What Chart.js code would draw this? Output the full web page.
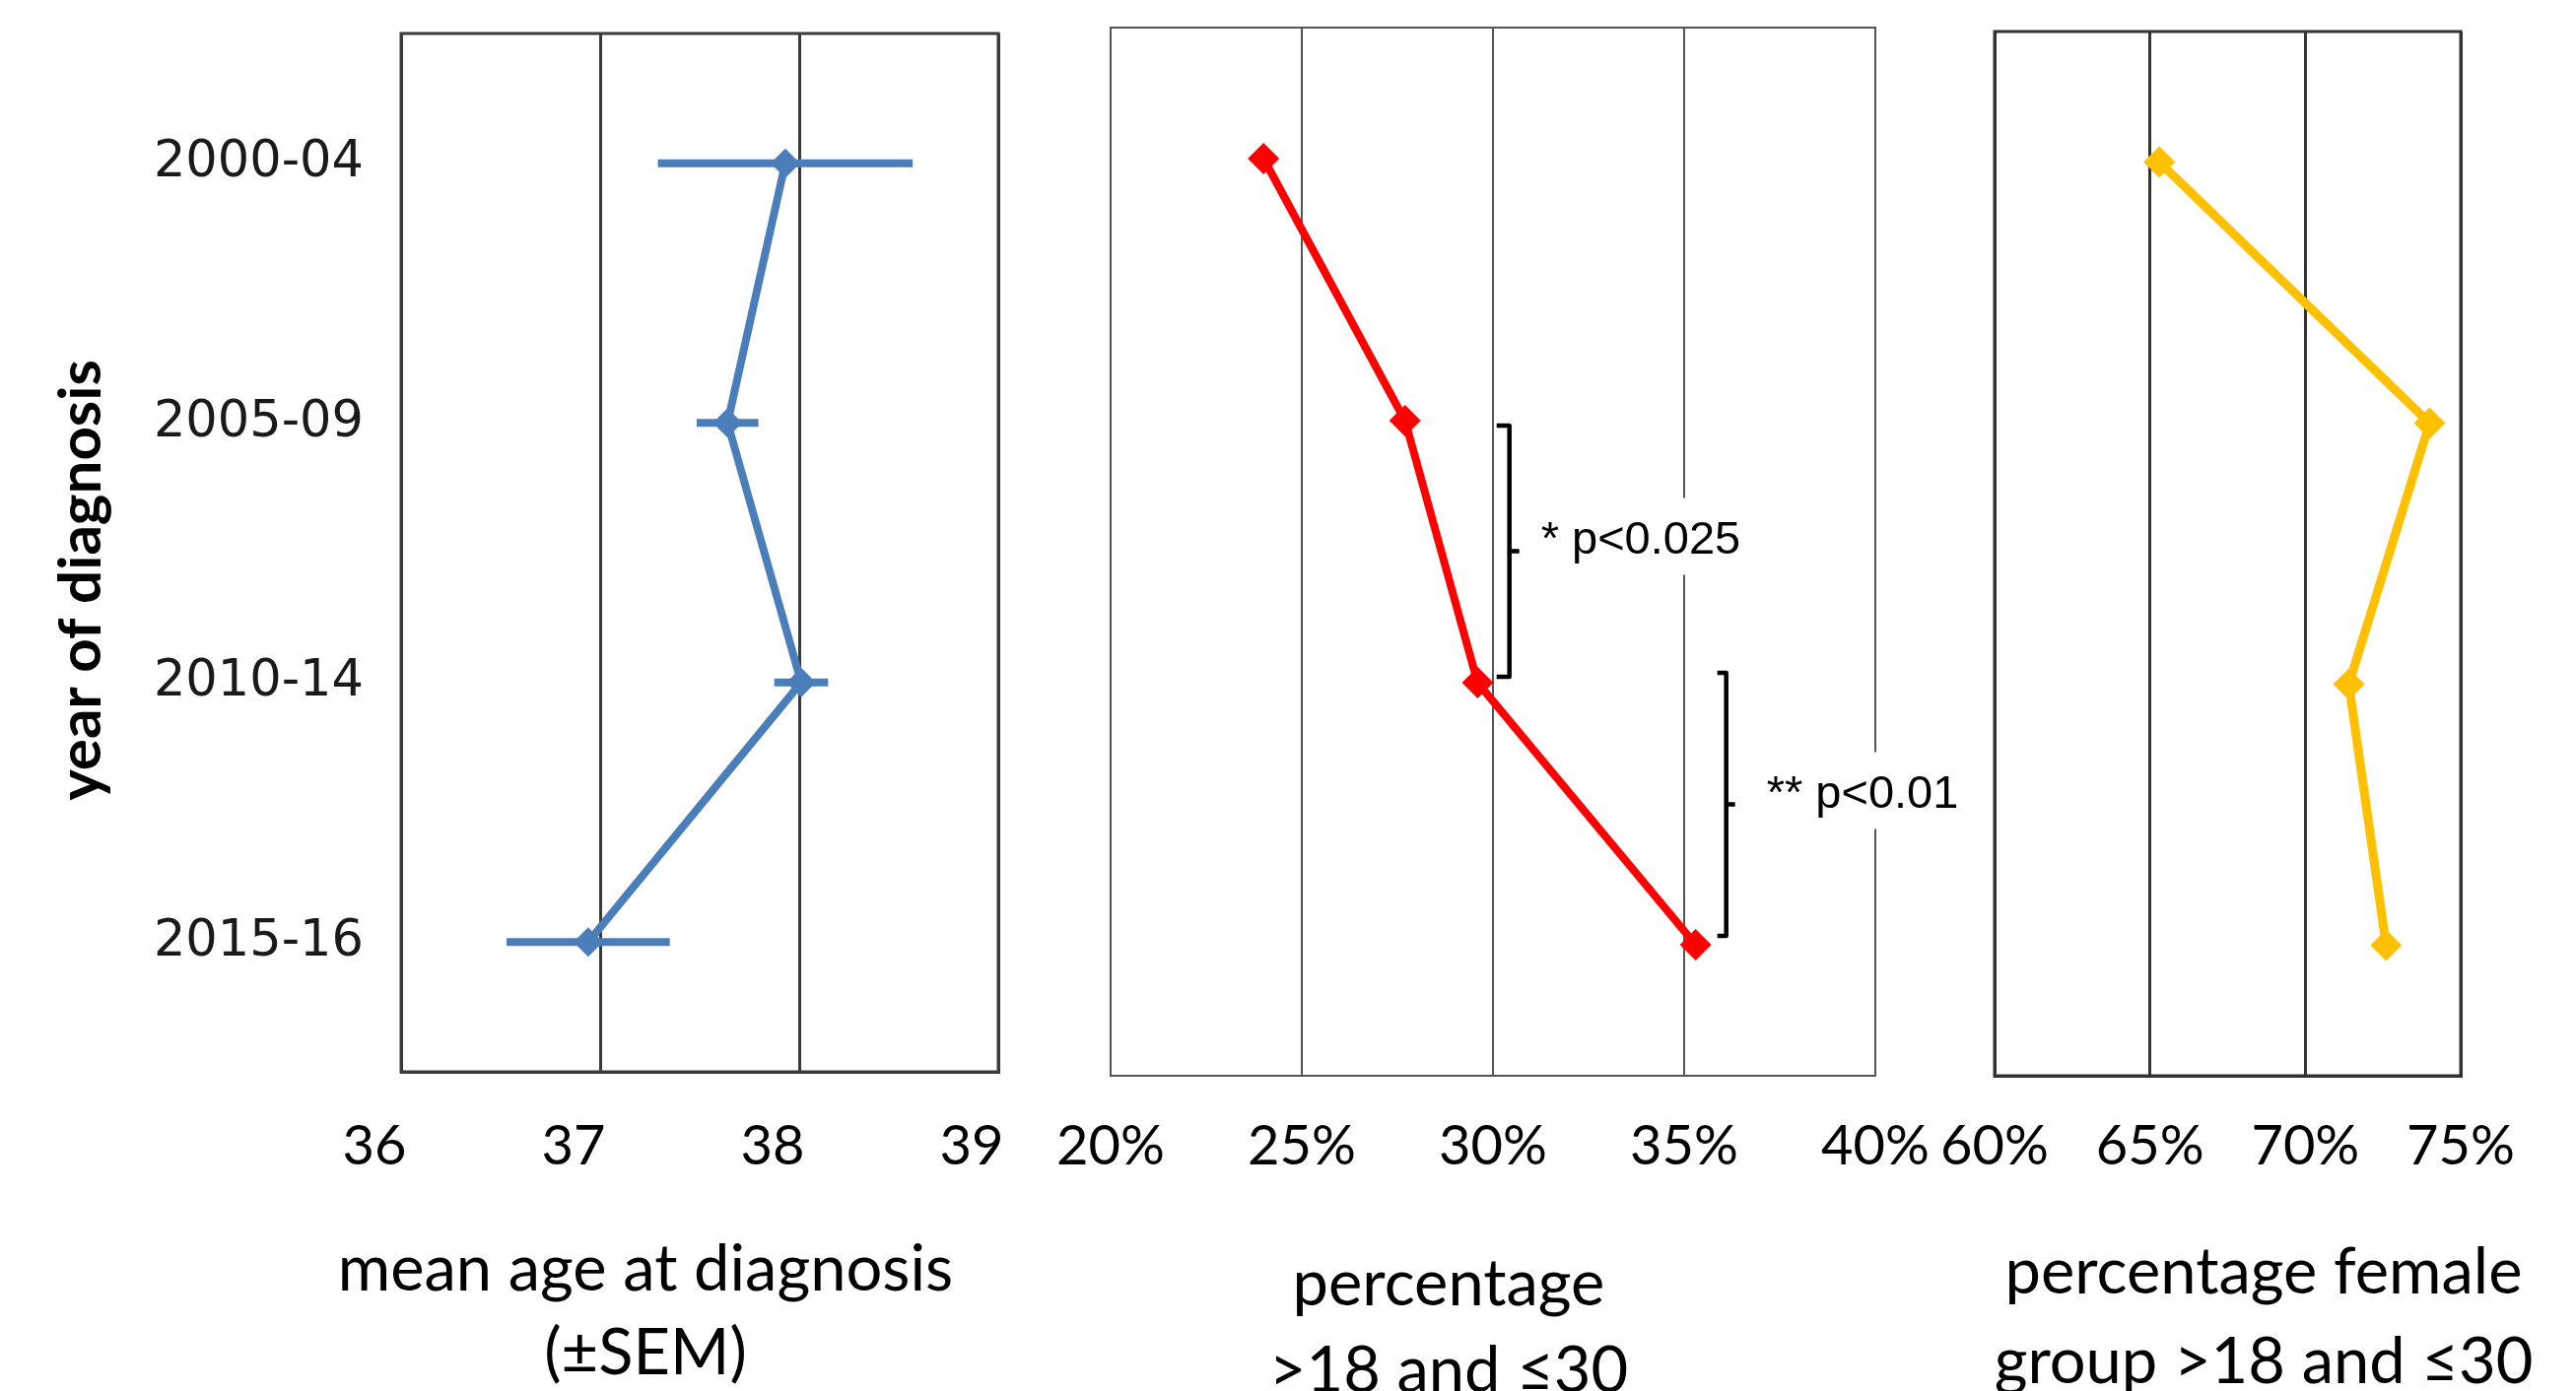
<!DOCTYPE html>
<html>
<head>
<meta charset="utf-8">
<script src="https://cdn.jsdelivr.net/npm/chart.js@4/dist/chart.umd.min.js"></script>
<style>
html, body { margin: 0; padding: 0; background: #ffffff; }
#wrap { position: relative; width: 2614px; height: 1412px; overflow: hidden; background: #ffffff; }
#wrap canvas { position: absolute; left: 0; top: 0; }
</style>
</head>
<body>
<div id="wrap">
  <canvas id="c1" width="2614" height="1412"></canvas>
  <canvas id="c2" width="2614" height="1412"></canvas>
  <canvas id="c3" width="2614" height="1412"></canvas>
</div>
<script>
// ---------- data ----------
const categories = ['2000-04', '2005-09', '2010-14', '2015-16'];
const meanAge = [37.93, 37.64, 38.01, 36.94];
const meanAgeSEM = [0.64, 0.155, 0.135, 0.41];
const pctAged18to30 = [24.0, 27.7, 29.6, 35.3];
const pctFemale18to30 = [65.3, 74.0, 71.4, 72.6];
const ageTicks = [36, 37, 38, 39];
const pctTicks = [20, 25, 30, 35, 40];
const femaleTicks = [60, 65, 70, 75];
const sigPairs = [[1, 2], [2, 3]];
const sigLabels = ['* p<0.025', '** p<0.01'];
const yAxisTitle = 'year of diagnosis';
const ageTitle = ['mean age at diagnosis', '(±SEM)'];
const pctTitle = ['percentage', '>18 and ≤30'];
const femaleTitle = ['percentage female', 'group >18 and ≤30'];

// ---------- styles ----------
const BLUE = '#4A7EBB';
const RED = '#FF0000';
const GOLD = '#FFC000';
const LATO = 'Lato, Carlito, "Open Sans", sans-serif';
const PAGE_W = 2614, PAGE_H = 1412;

const framePlugin = {
  id: 'frame',
  beforeDatasetsDraw(chart, args, opts) {
    const { ctx, chartArea: a } = chart;
    ctx.save();
    ctx.strokeStyle = opts.color;
    ctx.lineWidth = opts.width;
    ctx.strokeRect(a.left, a.top, a.right - a.left, a.bottom - a.top);
    ctx.restore();
  }
};

const textPlugin = {
  id: 'panelText',
  afterDraw(chart, args, opts) {
    const ctx = chart.ctx;
    ctx.save();
    if (opts.titleLines) {
      ctx.font = '65px ' + LATO;
      ctx.fillStyle = '#000000';
      ctx.textAlign = 'center';
      ctx.textBaseline = 'alphabetic';
      opts.titleLines.forEach((t, i) => ctx.fillText(t, opts.titleX, opts.titleBaselines[i]));
    }
    if (opts.yTitle) {
      ctx.save();
      ctx.translate(opts.yTitleX, opts.yTitleY);
      ctx.rotate(-Math.PI / 2);
      ctx.font = 'bold 60px ' + LATO;
      ctx.fillStyle = '#000000';
      ctx.textAlign = 'center';
      ctx.textBaseline = 'middle';
      ctx.fillText(opts.yTitle, 0, 0);
      ctx.restore();
    }
    if (opts.brackets) {
      const xs = chart.scales.x, ys = chart.scales.y;
      opts.brackets.forEach((b, i) => {
        const [from, to] = sigPairs[i];
        const x = xs.getPixelForValue(b.x);
        const top = ys.getPixelForValue(from) + b.dTop;
        const bot = ys.getPixelForValue(to) + b.dBot;
        const mid = (top + bot) / 2;
        ctx.strokeStyle = '#000000';
        ctx.lineWidth = 4.5;
        ctx.lineJoin = 'round';
        ctx.lineCap = 'butt';
        ctx.beginPath();
        ctx.moveTo(x - b.arm, top);
        ctx.lineTo(x, top);
        ctx.lineTo(x, bot);
        ctx.lineTo(x - b.arm, bot);
        ctx.stroke();
        ctx.beginPath();
        ctx.moveTo(x, mid);
        ctx.lineTo(x + b.nub, mid);
        ctx.stroke();
        ctx.font = '47px "Liberation Sans", Arial, sans-serif';
        ctx.textAlign = 'left';
        ctx.textBaseline = 'alphabetic';
        const label = sigLabels[i];
        const w = ctx.measureText(label).width;
        const tx = x + b.gap;
        const base = mid + b.baseDy;
        ctx.fillStyle = '#ffffff';
        ctx.fillRect(tx - 8, base - 56, w + 16, 78);
        ctx.fillStyle = '#000000';
        ctx.fillText(label, tx, base);
      });
    }
    ctx.restore();
  }
};

function makePanel(id, p) {
  const scaleMin = p.ticks[0], scaleMax = p.ticks[p.ticks.length - 1];
  return new Chart(document.getElementById(id), {
    type: 'line',
    data: { labels: categories, datasets: p.datasets },
    options: {
      responsive: false,
      animation: false,
      indexAxis: 'y',
      events: [],
      layout: { padding: { left: 0, top: p.area.top, right: PAGE_W - p.area.right, bottom: 0 } },
      plugins: {
        legend: { display: false },
        tooltip: { enabled: false },
        title: { display: false },
        frame: { color: p.gridColor, width: p.gridWidth },
        panelText: p.text
      },
      scales: {
        x: {
          type: 'linear',
          position: 'bottom',
          min: scaleMin,
          max: scaleMax,
          afterBuildTicks: (s) => { s.ticks = p.ticks.map(v => ({ value: v })); },
          afterFit: (s) => {
            s.height = PAGE_H - p.area.bottom;
            s.paddingLeft = 0; s.paddingRight = 0;
          },
          ticks: {
            autoSkip: false,
            maxRotation: 0,
            padding: p.tickPad,
            labelOffset: p.labelOffset,
            color: '#000000',
            font: { family: LATO, size: 56 },
            callback: p.fmt
          },
          grid: { color: p.gridColor, lineWidth: p.gridWidth, drawTicks: false },
          border: { display: true, color: p.gridColor, width: p.gridWidth }
        },
        y: {
          type: 'category',
          offset: true,
          afterFit: (s) => {
            s.width = p.area.left;
            s.paddingTop = 0; s.paddingBottom = 0;
          },
          ticks: {
            display: p.showCats,
            padding: 30,
            color: '#1a1a1a',
            font: { family: '"DejaVu Sans", Verdana, sans-serif', size: 51 }
          },
          grid: { display: false },
          border: { display: true, color: p.gridColor, width: p.gridWidth }
        }
      }
    },
    plugins: [framePlugin, textPlugin]
  });
}

// Panel 1: mean age with SEM error bars
const errorBarSets = categories.map((c, i) => ({
  data: [{ x: meanAge[i] - meanAgeSEM[i], y: c }, { x: meanAge[i] + meanAgeSEM[i], y: c }],
  borderColor: BLUE,
  backgroundColor: BLUE,
  borderWidth: 8,
  borderCapStyle: 'butt',
  pointRadius: 0,
  tension: 0,
  order: 2
}));

makePanel('c1', {
  area: { left: 407, right: 1013, top: 34, bottom: 1088 },
  ticks: ageTicks,
  fmt: (v) => String(v),
  tickPad: 42,
  labelOffset: -27,
  showCats: true,
  gridColor: '#3a3a3a',
  gridWidth: 3,
  datasets: [{
    data: meanAge,
    borderColor: BLUE,
    backgroundColor: BLUE,
    borderWidth: 8,
    pointStyle: 'rectRot',
    pointRadius: 15,
    pointBorderWidth: 0,
    tension: 0,
    order: 0
  }].concat(errorBarSets),
  text: {
    titleLines: ageTitle, titleX: 655, titleBaselines: [1310, 1395],
    yTitle: yAxisTitle, yTitleX: 83, yTitleY: 589
  }
});

// Panel 2: percentage aged >18 and <=30
makePanel('c2', {
  area: { left: 1127, right: 1903, top: 28, bottom: 1092 },
  ticks: pctTicks,
  fmt: (v) => v + '%',
  tickPad: 38,
  labelOffset: 0,
  showCats: false,
  gridColor: '#555555',
  gridWidth: 2,
  datasets: [{
    data: pctAged18to30,
    borderColor: RED,
    backgroundColor: RED,
    borderWidth: 8,
    pointStyle: 'rectRot',
    pointRadius: 16,
    pointBorderWidth: 0,
    tension: 0
  }],
  text: {
    titleLines: pctTitle, titleX: 1470, titleBaselines: [1325, 1413],
    brackets: [
      { x: 30.43, dTop: 5, dBot: -6, arm: 13, nub: 10, gap: 32, baseDy: 2 },
      { x: 36.1, dTop: -10, dBot: -9, arm: 9, nub: 9, gap: 41, baseDy: 3 }
    ]
  }
});

// Panel 3: percentage female in group >18 and <=30
makePanel('c3', {
  area: { left: 2024, right: 2497, top: 32, bottom: 1092 },
  ticks: femaleTicks,
  fmt: (v) => v + '%',
  tickPad: 38,
  labelOffset: 0,
  showCats: false,
  gridColor: '#333333',
  gridWidth: 3,
  datasets: [{
    data: pctFemale18to30,
    borderColor: GOLD,
    backgroundColor: GOLD,
    borderWidth: 9,
    pointStyle: 'rectRot',
    pointRadius: 16,
    pointBorderWidth: 0,
    tension: 0
  }],
  text: {
    titleLines: femaleTitle, titleX: 2297, titleBaselines: [1313, 1404]
  }
});
</script>
</body>
</html>
